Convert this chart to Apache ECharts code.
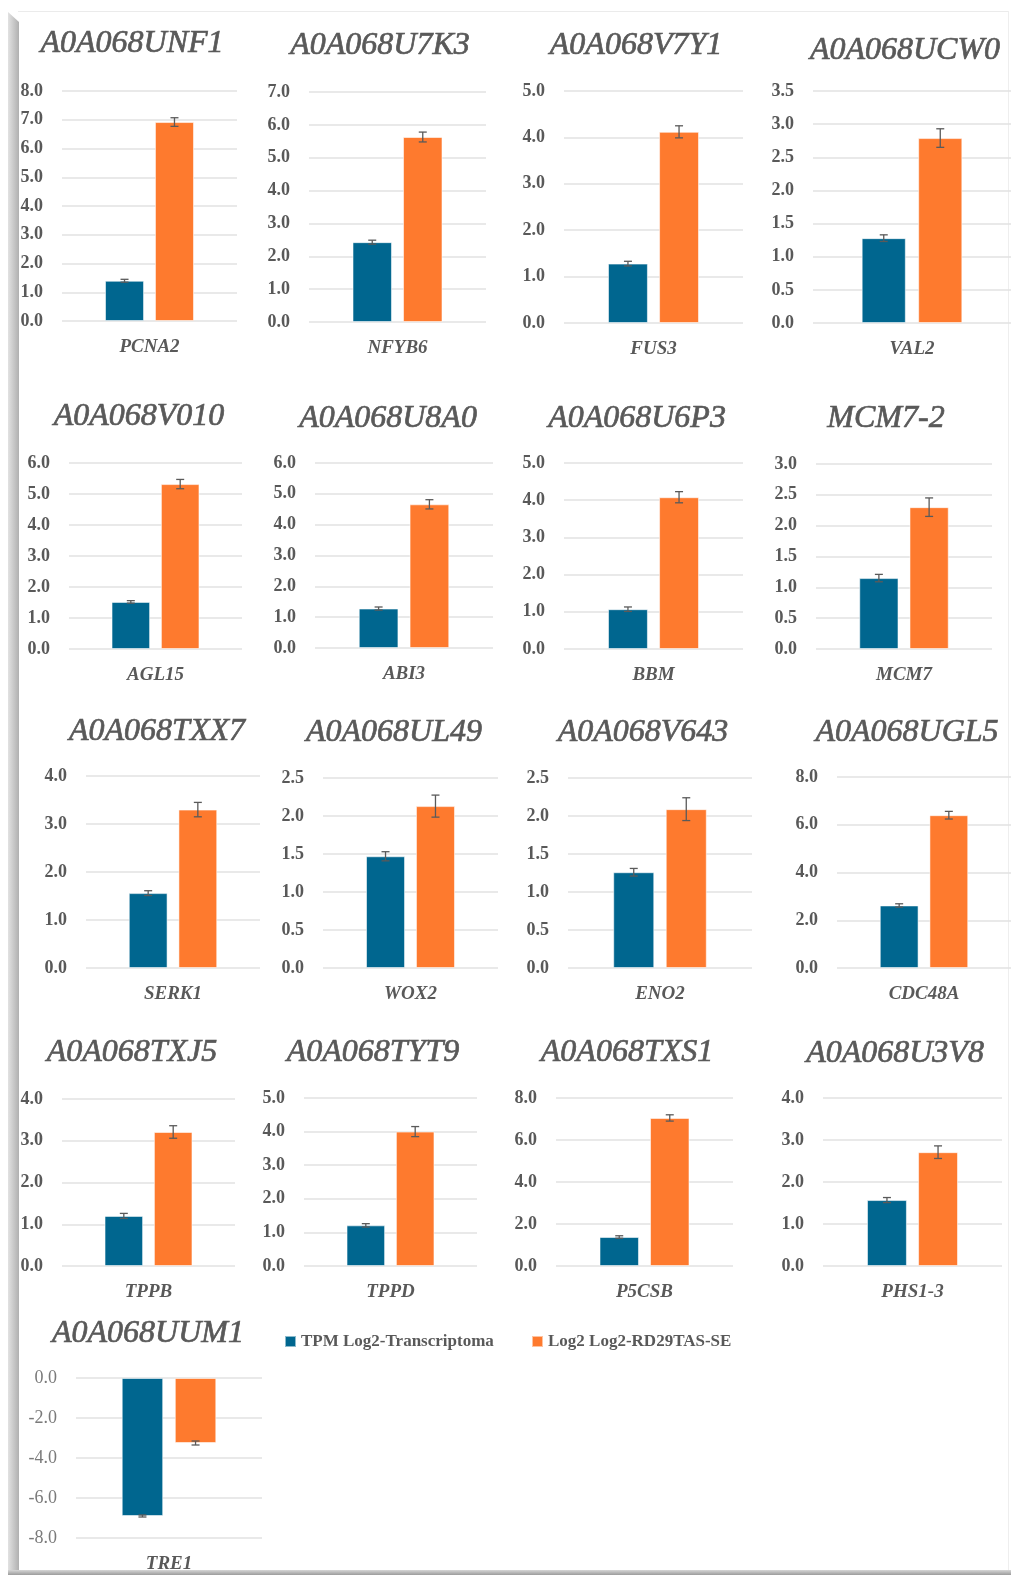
<!DOCTYPE html>
<html>
<head>
<meta charset="utf-8">
<title>Expression panels</title>
<script src="https://cdn.jsdelivr.net/npm/echarts@6/dist/echarts.min.js"></script>
<style>
  html, body { margin: 0; padding: 0; background: #ffffff; }
  #chart { width: 1011px; height: 1575px; }
</style>
</head>
<body>
<div id="chart"></div>
<script>
// ---- data -----------------------------------------------------------
const panelTitles = ['A0A068UNF1', 'A0A068U7K3', 'A0A068V7Y1', 'A0A068UCW0',
  'A0A068V010', 'A0A068U8A0', 'A0A068U6P3', 'MCM7-2',
  'A0A068TXX7', 'A0A068UL49', 'A0A068V643', 'A0A068UGL5',
  'A0A068TXJ5', 'A0A068TYT9', 'A0A068TXS1', 'A0A068U3V8',
  'A0A068UUM1'];
const genes = ['PCNA2', 'NFYB6', 'FUS3', 'VAL2',
  'AGL15', 'ABI3', 'BBM', 'MCM7',
  'SERK1', 'WOX2', 'ENO2', 'CDC48A',
  'TPPB', 'TPPD', 'P5CSB', 'PHS1-3',
  'TRE1'];
const transcriptome = [1.40, 2.43, 1.28, 1.28, 1.52, 1.28, 1.07, 1.15, 1.56, 1.47, 1.26, 2.62, 1.20, 1.21, 1.38, 1.57, -6.90];
const transcriptomeErr = [0.05, 0.06, 0.05, 0.05, 0.04, 0.05, 0.06, 0.06, 0.05, 0.06, 0.05, 0.07, 0.06, 0.05, 0.06, 0.06, 0.05];
const rd29 = [6.92, 5.63, 4.12, 2.79, 5.32, 4.66, 4.08, 2.30, 3.30, 2.13, 2.09, 6.40, 3.21, 4.00, 7.05, 2.71, -3.25];
const rd29Err = [0.15, 0.15, 0.13, 0.14, 0.15, 0.15, 0.15, 0.15, 0.15, 0.145, 0.15, 0.16, 0.15, 0.15, 0.15, 0.15, 0.10];
const axisMin = [0, 0, 0, 0, 0, 0, 0, 0, 0, 0, 0, 0, 0, 0, 0, 0, -8];
const axisMax = [8, 7, 5, 3.5, 6, 6, 5, 3, 4, 2.5, 2.5, 8, 4, 5, 8, 4, 0];
const axisStep = [1, 1, 1, 0.5, 1, 1, 1, 0.5, 1, 0.5, 0.5, 2, 1, 1, 2, 1, 2];
const seriesNames = ['TPM Log2-Transcriptoma', 'Log2 Log2-RD29TAS-SE'];

// ---- layout: [plot left, plot right, plot top, plot bottom, title centre x, title centre y]
const layout = [
  [62, 237, 91, 321, 132, 44], [309, 486, 92, 322, 380, 46], [564, 743, 91, 323, 636, 46], [813, 1030, 91, 323, 905, 51],
  [69, 242, 463, 649, 139, 417], [315, 493, 463, 648, 388, 419], [564, 743, 463, 649, 637, 419], [816, 992, 464, 649, 886, 419],
  [86, 260, 776, 968, 157, 732], [323, 498, 778, 968, 394, 733], [568, 752, 778, 968, 643, 733], [837, 1013, 777, 968, 907, 733],
  [62, 235, 1099, 1266, 132, 1053], [304, 477, 1098, 1266, 373, 1053], [556, 733, 1098, 1266, 627, 1053], [823, 1002, 1098, 1266, 895, 1054],
  [76, 262, 1378, 1538, 148, 1334]
];

const FONT = '"Liberation Serif", "Times New Roman", serif';
const TEXT_GREY = '#595959';
const BLUE = '#00668f';
const ORANGE = '#fe7a2e';
const BAR_FRAC = 0.223;   // bar width as a share of the category band
const BAR_GAP = 0.28;     // gap between the two bars, as a share of bar width
const CAP = 4;

function drawErrorBar(params, api) {
  const v = api.value(1);
  const e = api.value(2);
  const side = api.value(3);
  const band = api.size([1, 0])[0];
  const bw = band * BAR_FRAC;
  const shift = side * bw * (1 + BAR_GAP) / 2;
  const hi = api.coord([0, v + e]);
  const lo = api.coord([0, v - e]);
  const x = hi[0] + shift;
  const style = { stroke: '#5a5a5a', lineWidth: 1.3 };
  return {
    type: 'group',
    children: [
      { type: 'line', shape: { x1: x, y1: hi[1], x2: x, y2: lo[1] }, style: style },
      { type: 'line', shape: { x1: x - CAP, y1: hi[1], x2: x + CAP, y2: hi[1] }, style: style },
      { type: 'line', shape: { x1: x - CAP, y1: lo[1], x2: x + CAP, y2: lo[1] }, style: style }
    ]
  };
}

const grids = [], xAxes = [], yAxes = [], titles = [], series = [];
panelTitles.forEach(function (name, i) {
  const L = layout[i];
  const negative = axisMax[i] <= 0;
  grids.push({ left: L[0], top: L[2], width: L[1] - L[0], height: L[3] - L[2], containLabel: false });
  titles.push({
    text: name, left: L[4], top: L[5] - 16, textAlign: 'center', padding: 0,
    textStyle: {
      fontFamily: FONT, fontSize: 32, fontStyle: 'italic', fontWeight: 'normal', color: TEXT_GREY,
      textBorderColor: TEXT_GREY, textBorderWidth: 0.7
    }
  });
  xAxes.push({
    type: 'category', gridIndex: i, data: [genes[i]],
    axisLine: { show: false, onZero: false }, axisTick: { show: false },
    axisLabel: { margin: 17, fontFamily: FONT, fontSize: 19, fontStyle: 'italic', fontWeight: 'bold', color: TEXT_GREY }
  });
  yAxes.push({
    type: 'value', gridIndex: i, min: axisMin[i], max: axisMax[i], interval: axisStep[i],
    axisLine: { show: false }, axisTick: { show: false },
    splitLine: { lineStyle: { color: '#e2e2e2', width: 1.5 } },
    axisLabel: {
      margin: 19, fontFamily: FONT,
      fontSize: 18,
      fontWeight: negative ? 'normal' : 'bold',
      color: negative ? '#7a7a7a' : TEXT_GREY,
      formatter: function (v) { return v.toFixed(1); }
    }
  });
  series.push({
    type: 'bar', name: seriesNames[0], xAxisIndex: i, yAxisIndex: i,
    data: [transcriptome[i]], barWidth: (BAR_FRAC * 100) + '%', barGap: (BAR_GAP * 100) + '%',
    itemStyle: { color: BLUE, borderColor: 'rgba(255,255,255,0.55)', borderWidth: 1 }
  });
  series.push({
    type: 'bar', name: seriesNames[1], xAxisIndex: i, yAxisIndex: i,
    data: [rd29[i]], barWidth: (BAR_FRAC * 100) + '%', barGap: (BAR_GAP * 100) + '%',
    itemStyle: { color: ORANGE, borderColor: 'rgba(255,255,255,0.55)', borderWidth: 1 }
  });
  series.push({
    type: 'custom', name: 'error-' + i, xAxisIndex: i, yAxisIndex: i, z: 5,
    renderItem: drawErrorBar, encode: { x: 0, y: 1 },
    data: [[0, transcriptome[i], transcriptomeErr[i], -1], [0, rd29[i], rd29Err[i], 1]],
    silent: true
  });
});

const legendText = { fontFamily: FONT, fontSize: 17, fontWeight: 'bold', color: TEXT_GREY };

const chart = echarts.init(document.getElementById('chart'), null, { renderer: 'canvas' });
chart.setOption({
  backgroundColor: '#ffffff',
  animation: false,
  textStyle: { fontFamily: FONT },
  title: titles,
  grid: grids,
  xAxis: xAxes,
  yAxis: yAxes,
  legend: [
    { data: [seriesNames[0]], left: 284, top: 1333, padding: 0, icon: 'rect', itemWidth: 11, itemHeight: 11, selectedMode: false, textStyle: legendText },
    { data: [seriesNames[1]], left: 531, top: 1333, padding: 0, icon: 'rect', itemWidth: 11, itemHeight: 11, selectedMode: false, textStyle: legendText }
  ],
  series: series,
  graphic: [
    // page frame: thin top/right rules, shaded left and bottom edges
    { type: 'rect', z: -10, shape: { x: 18, y: 11, width: 990, height: 1 }, style: { fill: '#ebebeb' } },
    { type: 'rect', z: -10, shape: { x: 1008, y: 11, width: 1, height: 1560 }, style: { fill: '#eeeeee' } },
    {
      type: 'polygon', z: 100,
      shape: { points: [[8, 12], [19, 22], [19, 1575], [8, 1575]] },
      style: { fill: new echarts.graphic.LinearGradient(0, 0, 1, 0, [
        { offset: 0, color: '#e2e2e2' }, { offset: 0.6, color: '#c4c4c4' }, { offset: 1, color: '#b0b0b0' }]) }
    },
    {
      type: 'rect', z: 100,
      shape: { x: 8, y: 1570, width: 1003, height: 5 },
      style: { fill: new echarts.graphic.LinearGradient(0, 0, 0, 1, [
        { offset: 0, color: '#d6d6d6' }, { offset: 1, color: '#9c9c9c' }]) }
    }
  ]
});
</script>
</body>
</html>
